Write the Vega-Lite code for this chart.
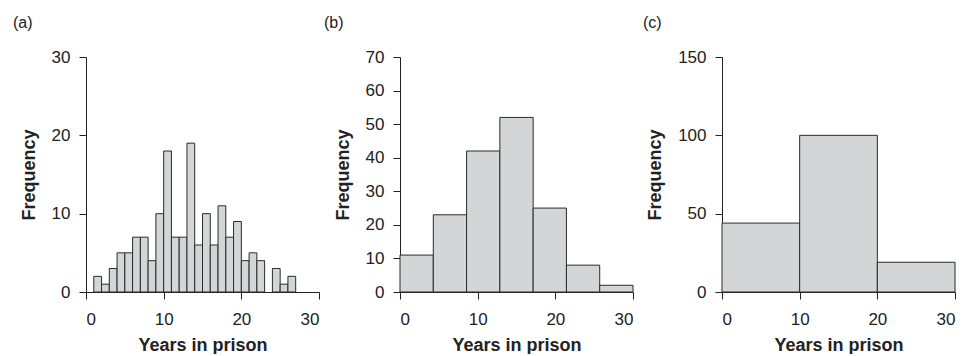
{
  "$schema": "https://vega.github.io/schema/vega-lite/v6.json",
  "background": "white",
  "padding": {"left": 13, "top": 15, "right": 0, "bottom": 0},
  "datasets": {
    "a": [
      {"x0": 1, "x1": 2, "count": 2}, {"x0": 2, "x1": 3, "count": 1}, {"x0": 3, "x1": 4, "count": 3},
      {"x0": 4, "x1": 5, "count": 5}, {"x0": 5, "x1": 6, "count": 5}, {"x0": 6, "x1": 7, "count": 7},
      {"x0": 7, "x1": 8, "count": 7}, {"x0": 8, "x1": 9, "count": 4}, {"x0": 9, "x1": 10, "count": 10},
      {"x0": 10, "x1": 11, "count": 18}, {"x0": 11, "x1": 12, "count": 7}, {"x0": 12, "x1": 13, "count": 7},
      {"x0": 13, "x1": 14, "count": 19}, {"x0": 14, "x1": 15, "count": 6}, {"x0": 15, "x1": 16, "count": 10},
      {"x0": 16, "x1": 17, "count": 6}, {"x0": 17, "x1": 18, "count": 11}, {"x0": 18, "x1": 19, "count": 7},
      {"x0": 19, "x1": 20, "count": 9}, {"x0": 20, "x1": 21, "count": 4}, {"x0": 21, "x1": 22, "count": 5},
      {"x0": 22, "x1": 23, "count": 4}, {"x0": 24, "x1": 25, "count": 3}, {"x0": 25, "x1": 26, "count": 1},
      {"x0": 26, "x1": 27, "count": 2}
    ],
    "b": [
      {"x0": 0, "x1": 4.286, "count": 11}, {"x0": 4.286, "x1": 8.571, "count": 23},
      {"x0": 8.571, "x1": 12.857, "count": 42}, {"x0": 12.857, "x1": 17.143, "count": 52},
      {"x0": 17.143, "x1": 21.429, "count": 25}, {"x0": 21.429, "x1": 25.714, "count": 8},
      {"x0": 25.714, "x1": 30, "count": 2}
    ],
    "c": [
      {"x0": 0, "x1": 10, "count": 44}, {"x0": 10, "x1": 20, "count": 100}, {"x0": 20, "x1": 30, "count": 19}
    ]
  },
  "config": {
    "font": "Liberation Sans",
    "view": {"stroke": null},
    "axis": {
      "grid": false,
      "domainColor": "#222222",
      "tickColor": "#222222",
      "labelColor": "#222222",
      "titleColor": "#222222",
      "labelFontSize": 17,
      "titleFontSize": 18,
      "titleFontWeight": "bold",
      "tickSize": 7,
      "labelPadding": 9,
      "titlePadding": 10,
      "domainWidth": 1,
      "tickWidth": 1
    },
    "axisX": {"labelPadding": 12, "titlePadding": 9},
    "axisY": {"labelAngle": 0, "titlePadding": 13},
    "title": {"fontSize": 16, "fontWeight": "normal", "color": "#222222", "anchor": "start", "frame": "group", "offset": 17}
  },
  "spacing": 4,
  "hconcat": [
    {
      "title": {"text": "(a)", "dx": -73},
      "width": 233, "height": 235,
      "data": {"name": "a"},
      "mark": {"type": "rect", "fill": "#d4d5d7", "stroke": "#2b2b2b", "strokeWidth": 1},
      "encoding": {
        "x": {"field": "x0", "type": "quantitative", "scale": {"domain": [0, 30], "nice": false}, "axis": {"values": [0, 10, 20, 30], "title": "Years in prison"}},
        "x2": {"field": "x1"},
        "y": {"field": "count", "type": "quantitative", "scale": {"domain": [0, 30], "nice": false}, "axis": {"values": [0, 10, 20, 30], "title": "Frequency"}},
        "y2": {"datum": 0}
      }
    },
    {
      "spacing": 9,
      "hconcat": [
        {
          "title": {"text": "(b)", "dx": -76},
          "width": 233, "height": 235,
          "data": {"name": "b"},
          "mark": {"type": "rect", "fill": "#d4d5d7", "stroke": "#2b2b2b", "strokeWidth": 1},
          "encoding": {
            "x": {"field": "x0", "type": "quantitative", "scale": {"domain": [0, 30], "nice": false}, "axis": {"values": [0, 10, 20, 30], "title": "Years in prison"}},
            "x2": {"field": "x1"},
            "y": {"field": "count", "type": "quantitative", "scale": {"domain": [0, 70], "nice": false}, "axis": {"values": [0, 10, 20, 30, 40, 50, 60, 70], "title": "Frequency"}},
            "y2": {"datum": 0}
          }
        },
        {
          "title": {"text": "(c)", "dx": -79},
          "width": 233, "height": 235,
          "data": {"name": "c"},
          "mark": {"type": "rect", "fill": "#d4d5d7", "stroke": "#2b2b2b", "strokeWidth": 1},
          "encoding": {
            "x": {"field": "x0", "type": "quantitative", "scale": {"domain": [0, 30], "nice": false}, "axis": {"values": [0, 10, 20, 30], "title": "Years in prison"}},
            "x2": {"field": "x1"},
            "y": {"field": "count", "type": "quantitative", "scale": {"domain": [0, 150], "nice": false}, "axis": {"values": [0, 50, 100, 150], "title": "Frequency"}},
            "y2": {"datum": 0}
          }
        }
      ]
    }
  ]
}
